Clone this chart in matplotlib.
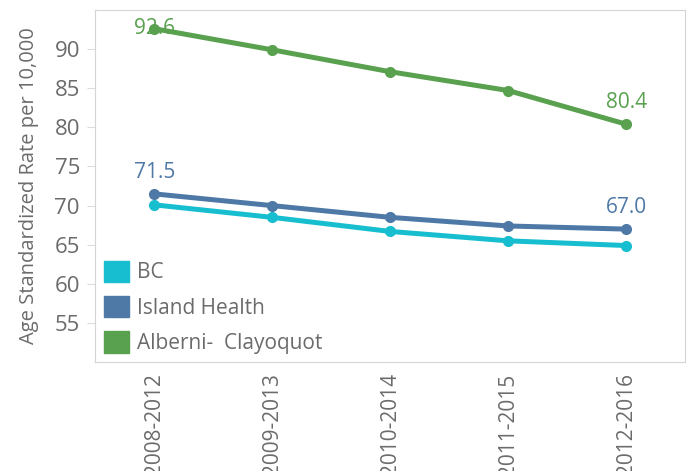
import matplotlib.pyplot as plt
from matplotlib.patches import Patch

# 数据
periods = ["2008-2012", "2009-2013", "2010-2014", "2011-2015", "2012-2016"]
bc = [70.1, 68.5, 66.7, 65.5, 64.9]
island = [71.5, 70.0, 68.5, 67.4, 67.0]
alberni = [92.6, 89.9, 87.1, 84.7, 80.4]

c_bc = "#17becf"
c_island = "#4e79a7"
c_alberni = "#59a14f"
grey = "#6b6b6b"

plt.rcParams['font.family'] = ['Open Sans', 'DejaVu Sans']

fig = plt.figure(figsize=(6.9, 4.71), dpi=100)
ax = fig.add_axes([0.138, 0.231, 0.855, 0.748])

x = range(len(periods))
ax.plot(x, bc, color=c_bc, lw=3.6, marker='o', ms=7)
ax.plot(x, island, color=c_island, lw=3.6, marker='o', ms=7)
ax.plot(x, alberni, color=c_alberni, lw=3.6, marker='o', ms=7)

# 首尾标注
ax.text(0, alberni[0], "%.1f" % alberni[0], color=c_alberni, fontsize=15, ha='center', va='center')
ax.text(4, alberni[-1] + 2.8, "%.1f" % alberni[-1], color=c_alberni, fontsize=15, ha='center', va='center')
ax.text(0, island[0] + 2.7, "%.1f" % island[0], color=c_island, fontsize=15, ha='center', va='center')
ax.text(4, island[-1] + 2.7, "%.1f" % island[-1], color=c_island, fontsize=15, ha='center', va='center')

ax.set_xlim(-0.5, 4.5)
ax.set_ylim(50, 95)
ax.set_yticks([55, 60, 65, 70, 75, 80, 85, 90])
ax.set_xticks(list(x))
ax.set_xticklabels(periods, rotation=90, fontsize=15, color=grey)
ax.tick_params(axis='y', labelsize=16, labelcolor=grey, color="#dddddd", length=6, pad=5)
ax.tick_params(axis='x', length=0, pad=8)
ax.set_ylabel("Age Standardized Rate per 10,000", fontsize=14.5, color=grey, labelpad=11)
for s in ax.spines.values():
    s.set_color("#d4d4d4")

handles = [Patch(color=c_bc, label="BC"),
           Patch(color=c_island, label="Island Health"),
           Patch(color=c_alberni, label="Alberni-  Clayoquot")]
leg = ax.legend(handles=handles, loc='lower left', frameon=False, fontsize=15,
                handlelength=1.2, handleheight=1.2, handletextpad=0.4,
                labelspacing=0.6, borderaxespad=0.1, borderpad=0.3,
                bbox_to_anchor=(0.0, 0.0))
for t in leg.get_texts():
    t.set_color(grey)

plt.savefig("out.png")
